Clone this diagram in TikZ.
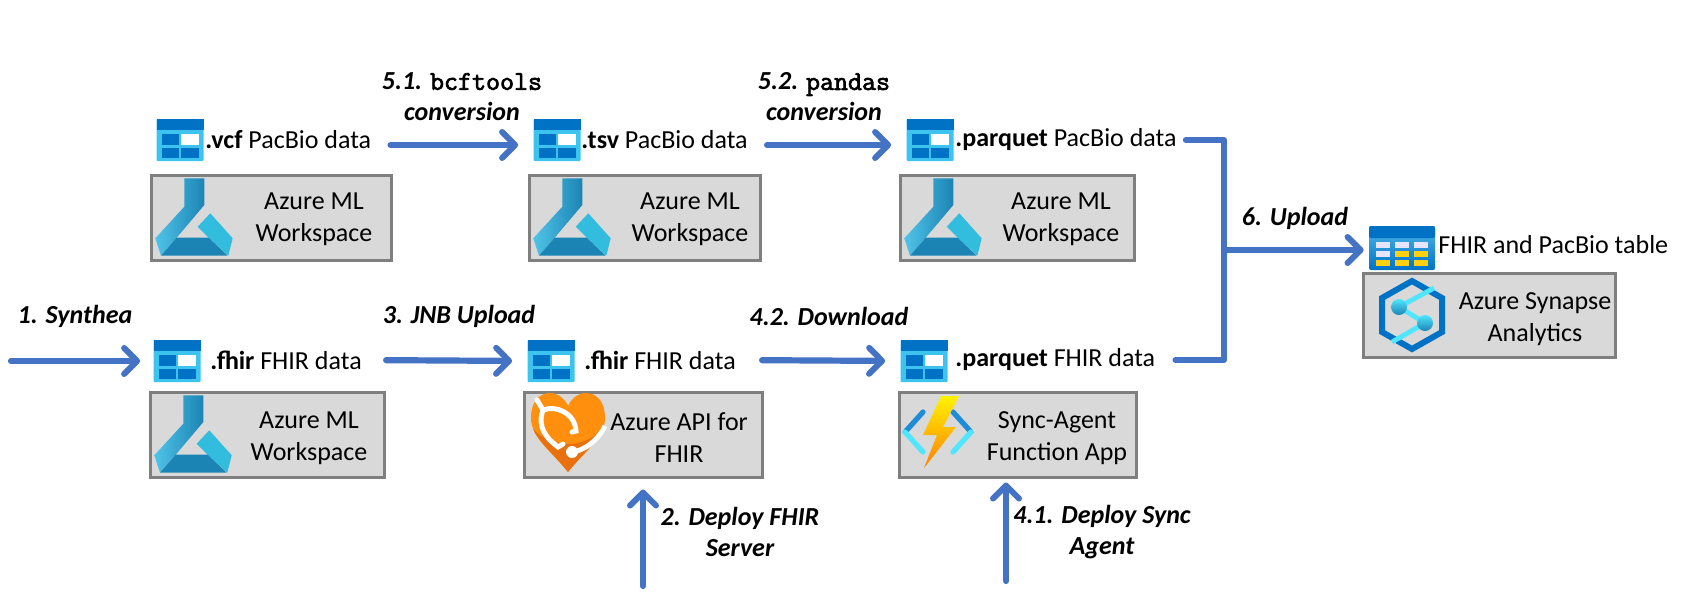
\documentclass[tikz,border=0pt]{standalone}
\usepackage{fontspec}
\setmainfont{Carlito}
\newfontfamily\codefont[FakeBold=2.5]{Latin Modern Mono}
\usetikzlibrary{arrows.meta}
\definecolor{flowblue}{HTML}{4472C4}
\definecolor{boxgray}{HTML}{D9D9D9}
\definecolor{boxline}{HTML}{7F7F7F}
\definecolor{azdark}{HTML}{0072C6}
\definecolor{azlight}{HTML}{3CC4EE}
\definecolor{flasklight}{HTML}{50C4E8}
\definecolor{flaskmid}{HTML}{32BCDE}
\definecolor{flaskdark}{HTML}{1C84B4}
\definecolor{heartlight}{HTML}{FF8F0C}
\definecolor{heartdark}{HTML}{E8700F}
\definecolor{boltblue}{HTML}{1E8CD8}
\definecolor{boltcyan}{HTML}{50E6FF}
\definecolor{tableyellow}{HTML}{FFD010}
\tikzset{
  datatable/.pic={
    \fill[azlight, rounded corners=0.5pt] (-23.5,-21) rectangle (23.5,21);
    \fill[azdark] (-23.5,-21) rectangle (23.5,-10);
    \fill[azdark] (-18.5,-6) rectangle (-1,5);
    \fill[white] (1,-6) rectangle (18.5,5);
    \fill[azdark] (-18.5,7.5) rectangle (-1,17.5);
    \fill[azdark] (1,7.5) rectangle (18.5,17.5);
  },
  resulttable/.pic={
    \shade[top color=azdark!40!azlight!80!white, bottom color=azdark, rounded corners=1pt] (-33,-22) rectangle (33,22);
    \fill[azdark, rounded corners=1pt] (-33,-22) rectangle (33,-10);
    \fill[white!90!blue] (-26.5,-6.5) rectangle (-12.5,-0.5);
    \fill[white!90!blue] (-7.5,-6.5) rectangle (6.5,-0.5);
    \fill[white!90!blue] (11.5,-6.5) rectangle (25.5,-0.5);
    \fill[white!90!blue] (-26.5,2.5) rectangle (-12.5,8.5);
    \fill[tableyellow] (-7.5,2.5) rectangle (6.5,8.5);
    \fill[tableyellow] (11.5,2.5) rectangle (25.5,8.5);
    \fill[tableyellow] (-26.5,11.5) rectangle (-12.5,17.5);
    \fill[tableyellow] (-7.5,11.5) rectangle (6.5,17.5);
    \fill[tableyellow] (11.5,11.5) rectangle (25.5,17.5);
  },
  mlflask/.pic={
    \shade[left color=flasklight, right color=flaskdark] (-9.7,-38.7) -- (10.3,-38.7) -- (10.3,-12) -- (-17.3,20.7) -- (-33,38.7) -- (-38.7,21.3) -- (-9.7,-10.3) -- cycle;
    \fill[flaskmid] (16.3,-3.7) -- (38.7,21.3) -- (34.3,38.7) -- (14.7,20.7) -- (3.7,9.7) -- cycle;
    \fill[flaskdark] (-17.3,20.7) -- (14.7,20.7) -- (33.7,38.7) -- (-33,38.7) -- cycle;
  },
  fhirheart/.pic={
    \fill[heartlight] (0,39) .. controls (-15,20) and (-37,5) .. (-37,-15) .. controls (-37,-32) and (-28,-40) .. (-18,-40) .. controls (-10,-40) and (-3,-34) .. (0,-27) .. controls (3,-34) and (10,-40) .. (18,-40) .. controls (28,-40) and (37,-32) .. (37,-15) .. controls (37,5) and (15,20) .. (0,39) -- cycle;
    \fill[heartdark] (0,39) .. controls (-15,20) and (-30,8) .. (-35,-4) .. controls (-15,16) and (15,16) .. (35,-4) .. controls (30,8) and (15,20) .. (0,39) -- cycle;
    \draw[white, line width=2.5pt, line cap=round] (-31,-33) -- (-25,-23);
    \draw[white, line width=2.5pt, line cap=round] (-25,-23) .. controls (-31,-6) and (-22,5) .. (-10,14) -- (-5,11);
    \draw[white, line width=2.5pt, line cap=round] (-25,-23) .. controls (-12,-28) and (7,-20) .. (8,-2) -- (4,-1);
    \draw[white, line width=2.5pt] (4,19) .. controls (15,18) and (30,8) .. (37,-7);
    \fill[white] (4,19) circle (6);
  },
  syncbolt/.pic={
    \draw[boltblue, line width=2.6pt, line cap=round] (-15,-21) -- (-33,-1);
    \draw[boltcyan, line width=2.6pt, line cap=round] (-33,-1) -- (-15,19);
    \draw[boltblue, line width=2.6pt, line cap=round] (15,-21) -- (33,-1);
    \draw[boltcyan, line width=2.6pt, line cap=round] (33,-1) -- (15,19);
    \shade[top color=yellow!90!orange, bottom color=orange] (3,-37) -- (21,-37) -- (5,-6) -- (18,-6) -- (-14,35) -- (-1,2) -- (-15,2) -- cycle;
  },
  synapsehex/.pic={
    \draw[azdark, line width=3pt] (0,-34) -- (30,-17) -- (30,17) -- (0,34) -- (-30,17) -- (-30,-17) -- cycle;
    \draw[boltcyan, line width=2.4pt] (22,-27) -- (-13,-8) -- (13,8) -- (-20,27);
    \shade[top color=boltcyan, bottom color=flaskdark] (-13,-8) circle (8);
    \shade[top color=boltcyan, bottom color=flaskdark] (13,8) circle (8);
  },
}
\newcommand{\codeword}[1]{{\codefont\fontsize{13.6}{15.5}\selectfont\upshape #1}}
\begin{document}
\begin{tikzpicture}[x=0.5pt, y=-0.5pt,
    box/.style={draw=boxline, fill=boxgray, line width=1.5pt, inner sep=0pt},
    icon/.style={inner sep=0pt, minimum width=23.5pt, minimum height=21pt},
    boxtext/.style={align=center, font=\fontsize{13}{16}\selectfont},
    datatext/.style={anchor=west, inner sep=0pt, font=\fontsize{13}{16}\selectfont},
    steptext/.style={align=center, inner sep=0pt, font=\fontsize{13}{15.5}\selectfont\bfseries\itshape},
    link/.style={draw=flowblue, line width=3.1pt, line cap=round, line join=round},
    flow/.style={link, -{Straight Barb[round, length=6.5pt, width=13pt, line width=3pt]}, shorten <=9.5pt, shorten >=7.5pt}]
    \useasboundingbox (0,0) rectangle (1684,612);
    \node[box, minimum width=120pt, minimum height=42.5pt] (mlboxa) at (271,217.5) {};
    \node[box, minimum width=115.5pt, minimum height=42.5pt] (mlboxb) at (644.5,217.5) {};
    \node[box, minimum width=117pt, minimum height=42.5pt] (mlboxc) at (1017,217.5) {};
    \node[box, minimum width=117pt, minimum height=42.5pt] (mlboxd) at (267,434.5) {};
    \node[box, minimum width=119pt, minimum height=42.5pt] (apibox) at (643,434.5) {};
    \node[box, minimum width=118.5pt, minimum height=42.5pt] (syncbox) at (1017.5,434.5) {};
    \node[box, minimum width=126pt, minimum height=42pt] (synbox) at (1489,315) {};
    \pic at (194,217) {mlflask};
    \pic at (572,217) {mlflask};
    \pic at (943,217) {mlflask};
    \pic at (193,434) {mlflask};
    \pic at (568,433) {fhirheart};
    \pic at (938,433) {syncbolt};
    \pic at (1412,315) {synapsehex};
    \node[boxtext] (mltexta) at (314,219) {Azure ML\\Workspace};
    \node[boxtext] (mltextb) at (690,219) {Azure ML\\Workspace};
    \node[boxtext] (mltextc) at (1061,219) {Azure ML\\Workspace};
    \node[boxtext] (mltextd) at (309,438) {Azure ML\\Workspace};
    \node[boxtext] (apitext) at (679,438) {Azure API for\\FHIR};
    \node[boxtext] (synctext) at (1057,438) {Sync-Agent\\Function App};
    \node[boxtext] (syntext) at (1535,319) {Azure Synapse\\Analytics};
    \node[icon] (vcficon) at (180,140) {};
    \node[icon] (tsvicon) at (557,140) {};
    \node[icon] (pqpbicon) at (930,140) {};
    \node[icon] (fhiraicon) at (177,361) {};
    \node[icon] (fhirbicon) at (551,361) {};
    \node[icon] (pqfhicon) at (924,361) {};
    \node[inner sep=0pt, minimum width=33pt, minimum height=22pt] (tableicon) at (1402,248) {};
    \pic at (vcficon) {datatable};
    \pic at (tsvicon) {datatable};
    \pic at (pqpbicon) {datatable};
    \pic at (fhiraicon) {datatable};
    \pic at (fhirbicon) {datatable};
    \pic at (pqfhicon) {datatable};
    \pic at (tableicon) {resulttable};
    \node[datatext] (vcfdata) at (205,140) {\textbf{.vcf} PacBio data};
    \node[datatext] (tsvdata) at (581,140) {\textbf{.tsv} PacBio data};
    \node[datatext] (pqpbdata) at (955,140) {\textbf{.parquet} PacBio data};
    \node[datatext] (fhiradata) at (210,360) {\textbf{.fhir} FHIR data};
    \node[datatext] (fhirbdata) at (584,360) {\textbf{.fhir} FHIR data};
    \node[datatext] (pqfhdata) at (955,360) {\textbf{.parquet} FHIR data};
    \node[datatext] (tabledata) at (1438,245) {FHIR and PacBio table};
    \node[steptext] (synlabel) at (75,316) {1. Synthea};
    \node[steptext] (jnblabel) at (459,316) {3. JNB Upload};
    \node[steptext] (dllabel) at (829,316) {4.2. Download};
    \node[steptext] (bcflabel) at (462,97) {5.1. \codeword{bcftools}\\conversion};
    \node[steptext] (pdlabel) at (824,97) {5.2. \codeword{pandas}\\conversion};
    \node[steptext] (uplabel) at (1295,218) {6. Upload};
    \node[steptext] (fhirlabel) at (740,532) {2. Deploy FHIR\\Server};
    \node[steptext] (agentlabel) at (1102,532) {4.1. Deploy Sync\\Agent};
    \coordinate (synstart) at (11,361);
    \coordinate (fhirstart) at (643,586);
    \coordinate (agentstart) at (1006,581);
    \coordinate (merge) at (1224,250);
    \draw[flow, shorten <=0pt, shorten >=6.5pt] (synstart) -- (fhiraicon.west);
    \draw[flow, shorten <=12pt] (fhiradata.east) -- (fhirbicon.west);
    \draw[flow, shorten <=13pt] (fhirbdata.east) -- (pqfhicon.west);
    \draw[flow] ([yshift=-2.5pt]vcfdata.east) -- ([yshift=-2.5pt]tsvicon.west);
    \draw[flow] ([yshift=-2.5pt]tsvdata.east) -- ([yshift=-2.5pt]pqpbicon.west);
    \draw[flow, shorten <=0pt, shorten >=5.5pt] (fhirstart) -- (apibox.south -| fhirstart);
    \draw[flow, shorten <=0pt, shorten >=2pt] (agentstart) -- (syncbox.south -| agentstart);
    \draw[link, shorten <=4.5pt] (pqpbdata.east) -| (merge);
    \draw[link, shorten <=10pt] (pqfhdata.east) -| (merge);
    \draw[flow, shorten <=0pt, shorten >=2.5pt] (merge) -- (merge -| tableicon.west);
\end{tikzpicture}
\end{document}
